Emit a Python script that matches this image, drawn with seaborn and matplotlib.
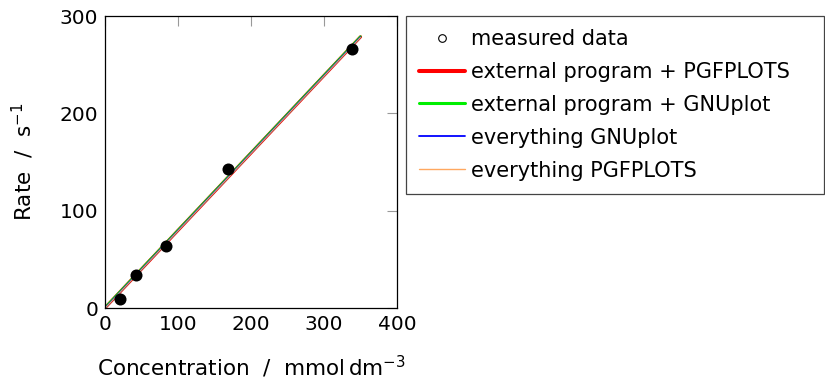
import matplotlib
matplotlib.use("Agg")
import matplotlib.pyplot as plt
from matplotlib.lines import Line2D
import seaborn as sns
import pandas as pd

# measured data
conc = [21, 42, 84, 169, 338]
rate = [9, 34, 64, 143, 266]

# fitted lines (endpoints at x = 0 and 350)
fit_x = [0, 350]
fit_ext_pgf = [0.2, 278.6]
fit_ext_gnu = [0.6, 279.0]
fit_all_gnu = [0.0, 278.4]
fit_all_pgf = [-0.3, 278.0]

labels = ["measured data", "external program + PGFPLOTS",
          "external program + GNUplot", "everything GNUplot",
          "everything PGFPLOTS"]

sns.set_theme(style="white")
plt.rcParams["font.family"] = ["DejaVu Sans"]
plt.rcParams["mathtext.fontset"] = "dejavusans"
plt.rcParams["text.color"] = "black"
plt.rcParams["axes.labelcolor"] = "black"

fig = plt.figure(figsize=(8.25, 3.81), dpi=100)
ax = fig.add_axes([105/825, 1 - 308/381, 292/825, 292/381])

df_pts = pd.DataFrame({"x": conc, "y": rate})
line_specs = [
    (fit_ext_pgf, "#ff0000", 2.3),
    (fit_ext_gnu, "#00ee00", 1.6),
    (fit_all_gnu, "#0000ff", 1.0),
    (fit_all_pgf, "#ffa860", 0.7),
]
handles = [Line2D([], [], marker="o", linestyle="none", markersize=5.5,
                  markerfacecolor="white", markeredgecolor="black",
                  markeredgewidth=0.8)]
for yv, col, lw in line_specs:
    d = pd.DataFrame({"x": fit_x, "y": yv})
    sns.lineplot(data=d, x="x", y="y", ax=ax, color=col, linewidth=lw)
    handles.append(Line2D([], [], color=col, linewidth=lw + 0.6 if lw > 1.5 else lw + 0.3))

sns.scatterplot(data=df_pts, x="x", y="y", ax=ax, color="black", s=75,
                edgecolor="black", linewidth=0, zorder=5)

ax.set_xlim(0, 400)
ax.set_ylim(0, 300)
ax.set_xticks([0, 100, 200, 300, 400])
ax.set_yticks([0, 100, 200, 300])
ax.tick_params(direction="in", length=7, width=0.8, color="#999999",
               top=True, right=True, labelsize=14.5, labelcolor="black", pad=5)
for s in ax.spines.values():
    s.set_color("black")
    s.set_linewidth(0.9)
ax.set_xlabel(r"Concentration  /  mmol$\,$dm$^{-3}$", fontsize=15.5, labelpad=14)
ax.set_ylabel(r"Rate  /  s$^{-1}$", fontsize=15.5, labelpad=17)

x0, x1 = 406/825, 824/825
ytop = 1 - 16/381
leg = fig.legend(handles, labels, loc="upper left",
                 bbox_to_anchor=(x0, ytop - 0.01, x1 - x0, 0.01), mode="expand",
                 fontsize=15,
                 frameon=True, fancybox=False, framealpha=1,
                 edgecolor="#444444", handlelength=2.2, handletextpad=0.3,
                 labelspacing=0.62, borderpad=0.62, borderaxespad=0)
leg.get_frame().set_linewidth(0.9)

fig.savefig("out.png", dpi=100)
